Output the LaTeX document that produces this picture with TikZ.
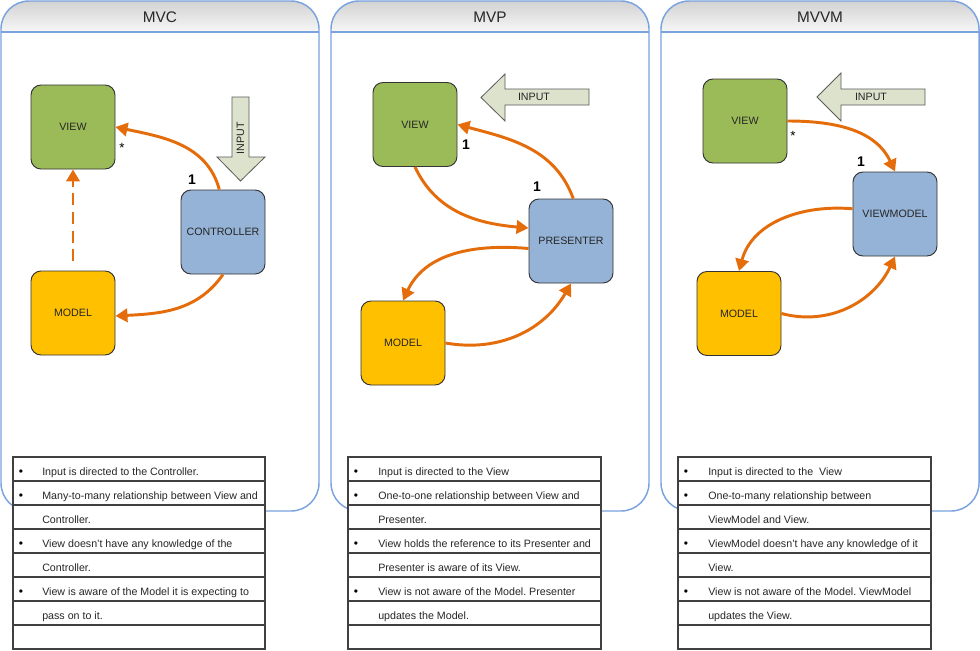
\documentclass[tikz,border=0pt]{standalone}
\usepackage{fontspec}
\setmainfont{Liberation Sans}
\usetikzlibrary{arrows.meta}
\frenchspacing
\definecolor{orangeC}{HTML}{E46C0A}
\definecolor{viewG}{HTML}{9BBB59}
\definecolor{ctrlB}{HTML}{95B3D7}
\definecolor{modO}{HTML}{FFC000}
\definecolor{inFill}{HTML}{DDE2CC}
\definecolor{panelB}{HTML}{7AA3E0}
\definecolor{hdrTop}{HTML}{D2D2D2}
\definecolor{hdrBot}{HTML}{F7F7F7}
\definecolor{tblLine}{HTML}{404040}
\tikzset{
  panel/.style={draw=panelB, line width=1.1pt, rounded corners=21pt},
  title/.style={font=\fontsize{11.5}{13}\selectfont, text=black!85},
  box/.style={draw=black!80, line width=0.7pt, rounded corners=7.5pt, minimum width=63pt, minimum height=63pt, inner sep=0pt, font=\fontsize{8}{9.6}\selectfont, text=black!85},
  conn/.style={draw=orangeC, line width=2.2pt, -{Triangle[length=9pt,width=10pt]}},
  inarrow/.style={draw=black!65, line width=0.6pt, fill=inFill},
  intext/.style={font=\fontsize{8}{9.6}\selectfont, text=black!85, inner sep=0pt},
  one/.style={font=\bfseries\fontsize{10.5}{12}\selectfont, inner sep=0pt},
  star/.style={font=\fontsize{10}{12}\selectfont, inner sep=0pt},
  tbl/.style={draw=tblLine, line width=1pt},
  txt/.style={anchor=base west, inner sep=0pt, font=\fontsize{8}{9.6}\selectfont, text=black!85},
  bul/.style={anchor=base, inner sep=0pt, font=\fontsize{9}{11}\selectfont}
}
\begin{document}
\begin{tikzpicture}[x=0.75pt, y=-0.75pt]
\useasboundingbox (0,0) rectangle (980,650);
% ---------- panels ----------
\foreach \xo/\nm in {0/MVC, 330/MVP, 660/MVVM}{
  \begin{scope}[xshift=\xo*0.75pt]
    \fill[white, rounded corners=21pt] (1,1) rectangle (319,511);
    \begin{scope}
      \clip[rounded corners=21pt] (1,1) rectangle (319,511);
      \shade[top color=hdrTop, bottom color=hdrBot] (1,1) rectangle (319,32);
    \end{scope}
    \draw[draw=panelB, line width=1.1pt] (1,32) -- (319,32);
    \draw[panel] (1,1) rectangle (319,511);
    \node[title] (title\nm) at (160,17) {\nm};
  \end{scope}
}
% ---------- tables ----------
\foreach \xa/\xb in {13/265, 348/601, 678/931}{
  \draw[tbl, fill=white] (\xa,457) rectangle (\xb,649);
  \foreach \yy in {481,505,529,553,577,601,625}
    \draw[tbl] (\xa,\yy) -- (\xb,\yy);
}
% MVC table text
\node[bul] (mvcB1) at (21,475) {•};
\node[bul] (mvcB2) at (21,499) {•};
\node[bul] (mvcB3) at (21,547) {•};
\node[bul] (mvcB4) at (21,595) {•};
\node[txt] (mvcT1) at (42,475.5) {Input is directed to the Controller.};
\node[txt] (mvcT2) at (42,499.5) {Many-to-many relationship between View and};
\node[txt] (mvcT3) at (42,523.5) {Controller.};
\node[txt] (mvcT4) at (42,547.5) {View doesn’t have any knowledge of the};
\node[txt] (mvcT5) at (42,571.5) {Controller.};
\node[txt] (mvcT6) at (42,595.5) {View is aware of the Model it is expecting to};
\node[txt] (mvcT7) at (42,619.5) {pass on to it.};
% MVP table text
\node[bul] (mvpB1) at (356,475) {•};
\node[bul] (mvpB2) at (356,499) {•};
\node[bul] (mvpB3) at (356,547) {•};
\node[bul] (mvpB4) at (356,595) {•};
\node[txt] (mvpT1) at (378,475.5) {Input is directed to the View};
\node[txt] (mvpT2) at (378,499.5) {One-to-one relationship between View and};
\node[txt] (mvpT3) at (378,523.5) {Presenter.};
\node[txt] (mvpT4) at (378,547.5) {View holds the reference to its Presenter and};
\node[txt] (mvpT5) at (378,571.5) {Presenter is aware of its View.};
\node[txt] (mvpT6) at (378,595.5) {View is not aware of the Model. Presenter};
\node[txt] (mvpT7) at (378,619.5) {updates the Model.};
% MVVM table text
\node[bul] (mvvmB1) at (686,475) {•};
\node[bul] (mvvmB2) at (686,499) {•};
\node[bul] (mvvmB3) at (686,547) {•};
\node[bul] (mvvmB4) at (686,595) {•};
\node[txt] (mvvmT1) at (708,475.5) {Input is directed to the\ \ View};
\node[txt] (mvvmT2) at (708,499.5) {One-to-many relationship between};
\node[txt] (mvvmT3) at (708,523.5) {ViewModel and View.};
\node[txt] (mvvmT4) at (708,547.5) {ViewModel doesn’t have any knowledge of it};
\node[txt] (mvvmT5) at (708,571.5) {View.};
\node[txt] (mvvmT6) at (708,595.5) {View is not aware of the Model. ViewModel};
\node[txt] (mvvmT7) at (708,619.5) {updates the View.};
% ---------- MVC ----------
\node[box, fill=viewG] (mvcV) at (73,127) {VIEW};
\node[box, fill=ctrlB] (mvcC) at (223,232) {CONTROLLER};
\node[box, fill=modO] (mvcM) at (73,313) {MODEL};
\draw[inarrow] (232,97) -- (249,97) -- (249,157) -- (265,157) -- (240.5,181) -- (217,157) -- (232,157) -- cycle;
\node[intext, rotate=90] (mvcIn) at (240.5,138) {INPUT};
\draw[conn] (mvcC.95) to[out=105,in=-12] (mvcV.east);
\draw[conn] (mvcC.south) to[out=-125,in=3] (mvcM.-4);
\draw[conn, dash pattern=on 9pt off 5pt, shorten <=7pt] (mvcM.north) -- (mvcV.south);
\node[star] (mvcStar) at (122,148) {*};
\node[one] (mvcOne) at (192,180) {1};
% ---------- MVP ----------
\node[box, fill=viewG] (mvpV) at (415,124.5) {VIEW};
\node[box, fill=ctrlB] (mvpP) at (571,241) {PRESENTER};
\node[box, fill=modO] (mvpM) at (403,343) {MODEL};
\draw[inarrow] (589,89) -- (505,89) -- (505,74) -- (481,97.5) -- (505,121) -- (505,105) -- (589,105) -- cycle;
\node[intext] (mvpIn) at (534,97) {INPUT};
\draw[conn] (mvpP.87) to[out=110,in=-15] (mvpV.east);
\draw[conn] (mvpV.south) to[out=-65,in=175] (mvpP.163);
\draw[conn] (mvpP.190) to[out=175,in=65] (mvpM.north);
\draw[conn] (mvpM.east) to[out=-10,in=-120] (mvpP.south);
\node[one] (mvpOne1) at (466,145) {1};
\node[one] (mvpOne2) at (537,187) {1};
% ---------- MVVM ----------
\node[box, fill=viewG] (mvvmV) at (745,121) {VIEW};
\node[box, fill=ctrlB] (mvvmVM) at (895,214) {VIEWMODEL};
\node[box, fill=modO] (mvvmM) at (739,313.5) {MODEL};
\draw[inarrow] (925,89) -- (841,89) -- (841,73) -- (817,97) -- (841,121) -- (841,105) -- (925,105) -- cycle;
\node[intext] (mvvmIn) at (871,97) {INPUT};
\draw[conn] (mvvmV.east) to[out=0,in=115] (mvvmVM.north);
\draw[conn] (mvvmVM.173) to[out=175,in=75] (mvvmM.north);
\draw[conn] (mvvmM.east) to[out=-15,in=-115] (mvvmVM.south);
\node[star] (mvvmStar) at (793,136) {*};
\node[one] (mvvmOne) at (861,162) {1};
\end{tikzpicture}
\end{document}
